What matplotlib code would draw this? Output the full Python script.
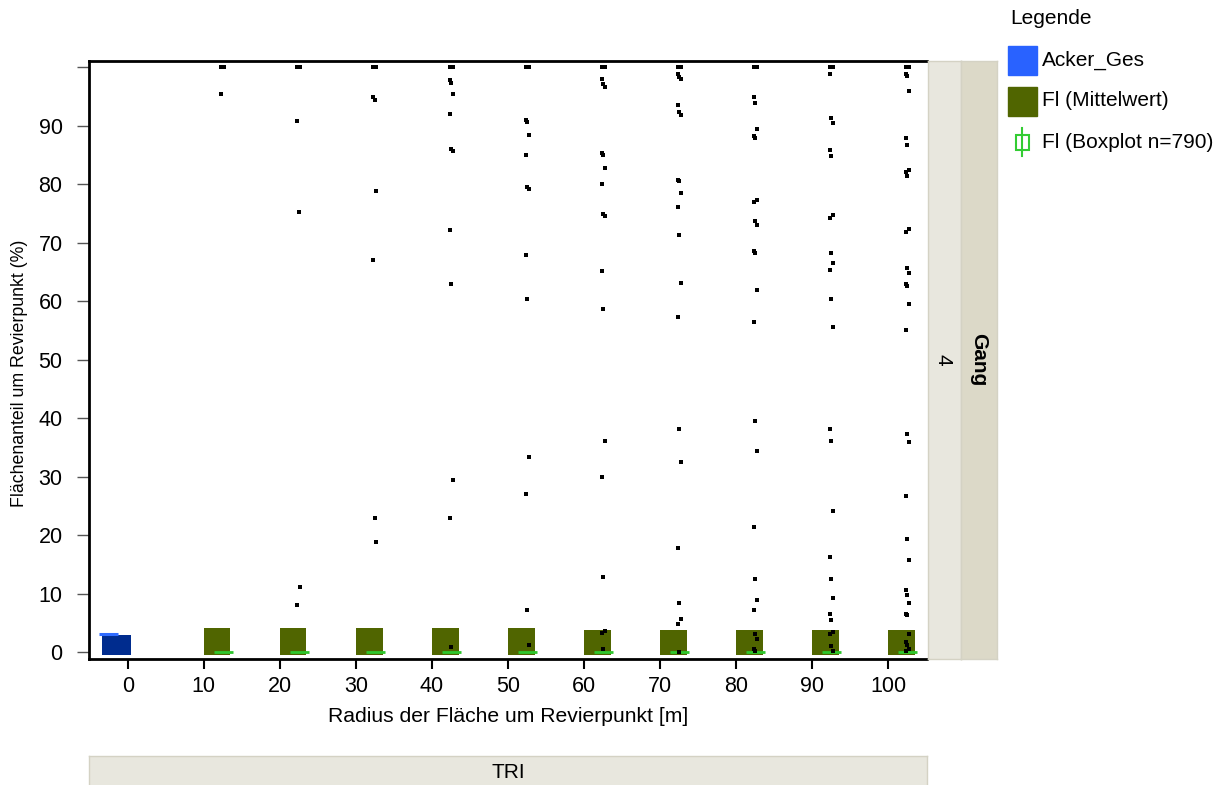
import numpy as np
import matplotlib.pyplot as plt
from matplotlib.patches import Rectangle

plt.rcParams['font.family'] = ['Liberation Sans', 'DejaVu Sans']

# ---- Daten ----
radius = [10, 20, 30, 40, 50, 60, 70, 80, 90, 100]
acker_x = [0]
acker_mittel = [2.9]
acker_strich = [3.2]
fl_mittel = [4.1, 4.1, 4.1, 4.1, 4.1, 3.75, 3.75, 3.75, 3.75, 3.75]
fl_median = [0, 0, 0, 0, 0, 0, 0, 0, 0, 0]

# Ausreisser (Boxplot) je Radius
out_10 = [100, 100, 100, 95.4]
out_20 = [100, 100, 100, 90.9, 75.2, 11.2, 8.1]
out_30 = [100, 100, 100, 94.9, 94.5, 78.8, 67.1, 23.0, 18.8]
out_40 = [100, 100, 100, 97.8, 97.4, 95.5, 92.1, 86.0, 85.7, 72.2, 62.9, 29.5, 23.0, 0.9]
out_50 = [100, 100, 100, 91.0, 90.6, 88.4, 85.1, 79.6, 79.2, 68.0, 60.4, 33.4, 27.0, 7.3, 1.2]
out_60 = [100, 100, 100, 98.0, 97.2, 96.6, 85.4, 85.1, 82.8, 80.1, 74.9, 74.6, 65.2, 58.7,
          36.2, 30.0, 12.9, 3.7, 3.3, 0.5]
out_70 = [100, 100, 100, 98.8, 98.3, 98.0, 93.5, 92.4, 91.9, 80.8, 80.6, 78.6, 76.1, 71.4,
          63.2, 57.3, 38.2, 32.6, 17.8, 8.4, 5.7, 4.8, 0.1]
out_80 = [100, 100, 100, 95.0, 94.0, 89.4, 88.3, 87.9, 77.4, 77.0, 73.8, 73.1, 68.6, 68.2,
          61.9, 56.5, 39.6, 34.5, 21.4, 12.6, 9.0, 7.2, 3.1, 2.2, 0.6, 0.3]
out_90 = [100, 100, 100, 98.8, 91.4, 90.5, 85.8, 84.8, 74.7, 74.3, 68.3, 66.5, 65.4, 60.4,
          55.6, 38.2, 36.2, 24.1, 16.3, 12.6, 9.2, 6.6, 5.6, 3.5, 3.1, 1.0, 0.3]
out_100 = [100, 100, 100, 98.8, 98.5, 96.0, 88.0, 86.7, 82.5, 82.2, 81.5, 72.3, 71.9, 65.7,
           64.9, 63.0, 62.6, 59.6, 55.1, 37.3, 36.0, 26.7, 19.4, 15.7, 10.6, 9.8, 8.4, 6.6,
           6.3, 3.1, 1.8, 1.2, 0.6, 0.3]
ausreisser = [out_10, out_20, out_30, out_40, out_50, out_60, out_70, out_80, out_90, out_100]

# ---- Farben ----
c_acker = '#002c8e'
c_acker_hell = '#2f6bff'
c_fl = '#506500'
c_box = '#2ec72e'
c_strip = '#e8e7de'
c_strip2 = '#dcd9c8'

W, H = 1226, 785
fig = plt.figure(figsize=(W / 100, H / 100), dpi=100)


def px(x0, y0, x1, y1):
    return [x0 / W, 1 - y1 / H, (x1 - x0) / W, (y1 - y0) / H]


ax = fig.add_axes(px(89, 61, 927, 659))

# ---- Balken ----
ax.bar(np.array(acker_x) - 1.5, np.array(acker_mittel) + 0.5, width=3.8, bottom=-0.5,
       color=c_acker, zorder=2)
ax.hlines(acker_strich, np.array(acker_x) - 3.8, np.array(acker_x) - 1.3,
          color=c_acker_hell, lw=2.2, zorder=3)
ax.bar(np.array(radius) + 1.75, np.array(fl_mittel) + 0.5, width=3.5, bottom=-0.5,
       color=c_fl, zorder=2)

# ---- Boxplot (Median) + Ausreisser ----
ax.hlines(fl_median, np.array(radius) + 1.3, np.array(radius) + 3.8,
          color=c_box, lw=2, zorder=3)
for r, werte in zip(radius, ausreisser):
    jitter = np.array([(-0.2, 0.0, 0.2)[i % 3] for i in range(len(werte))])
    ax.plot(r + 2.5 + jitter, werte, 's', color='black', ms=2.8, mew=0, zorder=4)

ax.set_xlim(-5.09, 105.07)
ax.set_ylim(-1.15, 101.1)
ax.set_xticks([0, 10, 20, 30, 40, 50, 60, 70, 80, 90, 100])
ax.set_yticks([0, 10, 20, 30, 40, 50, 60, 70, 80, 90, 100])
ax.set_yticklabels(['0', '10', '20', '30', '40', '50', '60', '70', '80', '90', ''])
ax.tick_params(axis='x', length=7, width=1.5, labelsize=15.5, pad=5)
ax.tick_params(axis='y', length=9, width=1, color='#555555', labelsize=15.5, pad=10)
for s in ['left', 'bottom', 'top']:
    ax.spines[s].set_linewidth(2)
ax.spines['right'].set_visible(False)

fig.text(508 / W, 1 - 716 / H, 'Radius der Fläche um Revierpunkt [m]',
         ha='center', va='center', fontsize=15.2)
fig.text(20 / W, 1 - 373 / H, 'Flächenanteil um Revierpunkt (%)',
         ha='center', va='center', rotation=90, fontsize=12.8)

# ---- Streifen rechts ----
s1 = fig.add_axes(px(928, 61, 961, 659))
s1.set_facecolor(c_strip)
s1.text(0.45, 0.5, '4', rotation=-90, ha='center', va='center', fontsize=15,
        transform=s1.transAxes)
s2 = fig.add_axes(px(961, 61, 997, 659))
s2.set_facecolor(c_strip2)
s2.text(0.5, 0.5, 'Gang', rotation=-90, ha='center', va='center', fontsize=15,
        fontweight='bold', transform=s2.transAxes)
# ---- Streifen unten ----
s3 = fig.add_axes(px(89, 756, 927, 790))
s3.set_facecolor(c_strip)
s3.text(0.5, 0.5, 'TRI', ha='center', va='center', fontsize=15, transform=s3.transAxes)
for s in [s1, s2, s3]:
    s.set_xticks([])
    s.set_yticks([])
    for sp in s.spines.values():
        sp.set_color('#d4d2c4')
        sp.set_linewidth(1)

# ---- Legende ----
fig.text(1010 / W, 1 - 18 / H, 'Legende', ha='left', va='center', fontsize=15)
fig.add_artist(Rectangle((1008 / W, 1 - 75 / H), 29 / W, 29 / H, color='#2962ff',
                         transform=fig.transFigure))
fig.text(1042 / W, 1 - 60 / H, 'Acker_Ges', ha='left', va='center', fontsize=15)
fig.add_artist(Rectangle((1008 / W, 1 - 116 / H), 29 / W, 29 / H, color=c_fl,
                         transform=fig.transFigure))
fig.text(1042 / W, 1 - 101 / H, 'Fl (Mittelwert)', ha='left', va='center', fontsize=15)
fig.add_artist(plt.Line2D([1022 / W, 1022 / W], [1 - 128 / H, 1 - 156 / H],
                          color='#33cc33', lw=1.5, transform=fig.transFigure))
fig.add_artist(Rectangle((1016 / W, 1 - 150 / H), 13 / W, 15 / H, facecolor='white',
                         edgecolor='#33cc33', lw=1.5, transform=fig.transFigure))
fig.text(1042 / W, 1 - 143 / H, 'Fl (Boxplot n=790)', ha='left', va='center', fontsize=15)

plt.savefig('out.png', dpi=100)
